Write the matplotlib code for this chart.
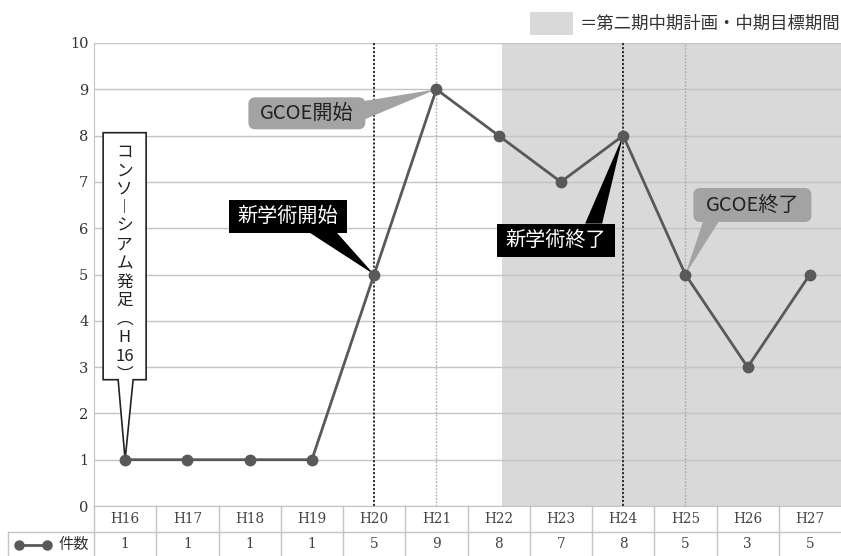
import numpy as np
import matplotlib
matplotlib.use("Agg")
import matplotlib.pyplot as plt
from matplotlib.patches import Polygon, FancyBboxPatch, Rectangle
from matplotlib.transforms import blended_transform_factory, Affine2D
from matplotlib.lines import Line2D

plt.rcParams["font.family"] = ["Noto Sans CJK JP", "DejaVu Sans"]

# ---- data -------------------------------------------------------------
years = ["H16", "H17", "H18", "H19", "H20", "H21",
         "H22", "H23", "H24", "H25", "H26", "H27"]
counts = [1, 1, 1, 1, 5, 9, 8, 7, 8, 5, 3, 5]
series_label = "件数"
period_label = "＝第二期中期計画・中期目標期間"
period_start = "H22"
event_years_major = ["H20", "H24"]   # 新学術 start / end
event_years_minor = ["H21", "H25"]   # GCOE start / end

# ---- figure -----------------------------------------------------------
W, H = 841, 556
fig = plt.figure(figsize=(W / 100, H / 100), dpi=100)
ax = fig.add_axes([94 / W, 50 / H, 747 / W, 463 / H])

x = np.arange(len(years))
ax.set_xlim(-0.5, len(years) - 0.5)
ax.set_ylim(0, 10)

# shaded period
ax.axvspan(years.index(period_start) + 0.05, len(years) - 0.5,
           color="#d9d9d9", lw=0, zorder=0)

ax.set_yticks(range(0, 11))
ax.yaxis.grid(True, color="#c4c4c4", lw=1)
ax.set_axisbelow(True)
ax.set_xticks([])
ax.tick_params(axis="y", length=0, pad=4)
for lab in ax.get_yticklabels():
    lab.set_fontfamily("DejaVu Serif")
    lab.set_fontsize(10.5)
    lab.set_color("#333333")
for s in ("top", "right"):
    ax.spines[s].set_visible(False)
for s in ("left", "bottom"):
    ax.spines[s].set_color("#c4c4c4")

# event markers
for yr in event_years_major:
    ax.axvline(years.index(yr), color="#222222", lw=1.3,
               ls=(0, (1.2, 1.0)), zorder=2)
for yr in event_years_minor:
    ax.axvline(years.index(yr), color="#a8a8a8", lw=1.0,
               ls=(0, (1.2, 1.2)), zorder=2)

# series
ax.plot(x, counts, color="#595959", lw=2, marker="o", ms=7.5,
        zorder=8, clip_on=False)

# ---- data table under the axis ---------------------------------------
tb = blended_transform_factory(ax.transData, ax.transAxes)
row1 = -26 / 463
row2 = -50 / 463
lab_left = (8 - 94) / 62.25 - 0.5
grid_kw = dict(color="#c4c4c4", lw=1, transform=tb, clip_on=False)
for k in range(1, len(years)):
    ax.add_line(Line2D([k - 0.5, k - 0.5], [0, row2], **grid_kw))
ax.add_line(Line2D([-0.5, -0.5], [0, row2], **grid_kw))
ax.add_line(Line2D([lab_left, len(years) - 0.5], [row1, row1], **grid_kw))
ax.add_line(Line2D([lab_left, lab_left], [row1, row2], **grid_kw))

for i, (yr, c) in enumerate(zip(years, counts)):
    ax.text(i, row1 / 2, yr, transform=tb, ha="center", va="center",
            fontsize=9.8, family="DejaVu Serif", color="#444444")
    ax.text(i, (row1 + row2) / 2, str(c), transform=tb, ha="center",
            va="center", fontsize=9.8, family="DejaVu Serif", color="#444444")

# legend key inside the label cell
pix = Affine2D().scale(1, -1).translate(0, H)   # image-style pixel coords
fig.add_artist(Line2D([19, 47], [545, 545], color="#595959", lw=2,
                      marker="o", ms=6.5, transform=pix))
fig.text(74 / W, 1 - 545 / H, series_label, ha="center", va="center",
         fontsize=11, color="#333333")

# ---- period legend at top --------------------------------------------
fig.add_artist(Rectangle((530, 12), 43, 23, fc="#d9d9d9", ec="none",
                         transform=pix))
fig.text(580 / W, 1 - 24 / H, period_label, ha="left", va="center",
         fontsize=12.5, color="#333333")


# ---- callouts ---------------------------------------------------------
def tip_px(i, v):
    dx, dy = ax.transData.transform((i, v))
    return dx, H - dy


def black_box(i, box, tail, text):
    tx, ty = tip_px(i, counts[i])
    l, r, t, b = tx + box[0], tx + box[1], ty + box[2], ty + box[3]
    ax.add_artist(Rectangle((l, t), r - l, b - t, fc="black", ec="none",
                            transform=pix, zorder=6))
    ax.add_artist(Polygon([(tx + tail[0], ty + tail[2]), (tx, ty),
                           (tx + tail[1], ty + tail[2])], closed=True,
                          fc="black", ec="none", transform=pix, zorder=6))
    fig.text((l + r) / 2 / W, 1 - (t + b) / 2 / H, text, ha="center",
             va="center", fontsize=14.5, color="white", zorder=7)


def gray_box(i, box, tail_pts, text):
    tx, ty = tip_px(i, counts[i])
    l, r, t, b = tx + box[0], tx + box[1], ty + box[2], ty + box[3]
    ax.add_artist(FancyBboxPatch((l, t), r - l, b - t,
                                 boxstyle="round,pad=0,rounding_size=7",
                                 fc="#a3a3a3", ec="none", transform=pix,
                                 zorder=6))
    pts = [(tx + p[0], ty + p[1]) for p in tail_pts]
    ax.add_artist(Polygon([pts[0], (tx, ty), pts[1]], closed=True,
                          fc="#a3a3a3", ec="none", transform=pix, zorder=6))
    fig.text((l + r) / 2 / W, 1 - (t + b) / 2 / H, text, ha="center",
             va="center", fontsize=14.5, color="#222222", zorder=7)


# consortium start (vertical text in a white box)
i0 = years.index("H16")
tx, ty = tip_px(i0, counts[i0])
l, r, t, b = tx - 22, tx + 21, ty - 327, ty - 80
ax.add_artist(Polygon([(l, t), (r, t), (r, b), (tx + 8, b), (tx, ty),
                       (tx - 7, b), (l, b)], closed=True, fc="white",
                      ec="#222222", lw=1.2, transform=pix, zorder=6))
vertical_label = "\n".join(["コ", "ン", "ソ", "︱", "シ", "ア", "ム", "発",
                            "足", "︵", "H", "16", "︶"])
fig.text((l + r) / 2 / W, 1 - (t + 11) / H, vertical_label, ha="center",
         va="top", multialignment="center", fontsize=12, linespacing=1.12,
         color="#222222", zorder=7)

black_box(years.index("H20"), (-145, -27, -74.5, -41.5), (-64, -37, -41.5),
          "新学術開始")
black_box(years.index("H24"), (-126, -8, 88, 121), (-38, -21, 88),
          "新学術終了")
gray_box(years.index("H21"), (-188, -71, 8, 40), [(-74, 12), (-74, 31)],
         "GCOE開始")
gray_box(years.index("H25"), (8, 126, -86.5, -52.5), [(18, -54), (34, -54)],
         "GCOE終了")

fig.savefig("out.png", dpi=100)
